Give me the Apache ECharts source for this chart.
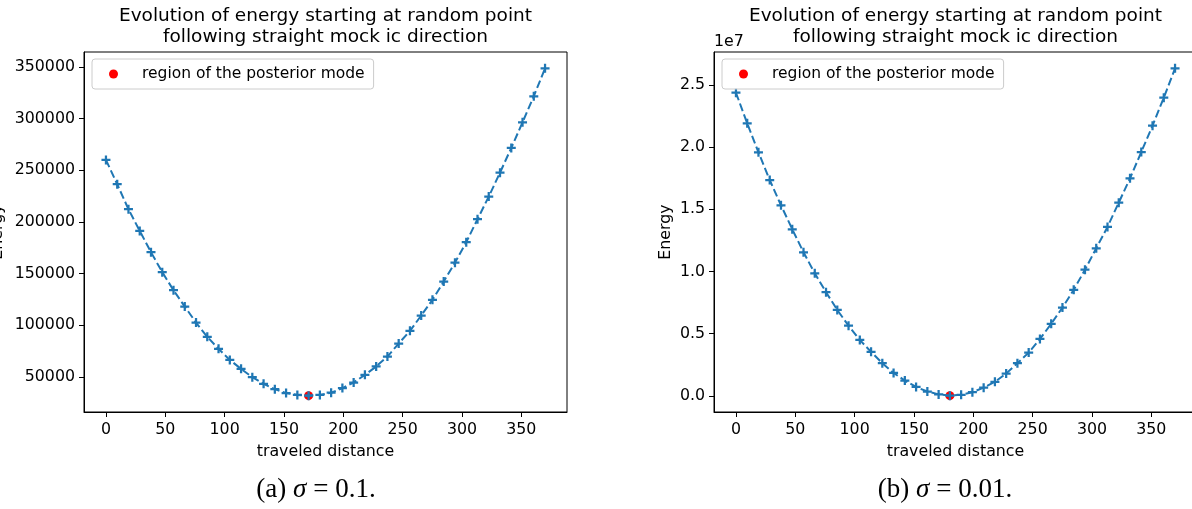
<!DOCTYPE html>
<html>
<head>
<meta charset="utf-8">
<script src="https://cdn.jsdelivr.net/npm/echarts@6/dist/echarts.min.js"></script>
<style>
  html, body { margin: 0; padding: 0; background: #fff; }
  #chart { width: 1192px; height: 509px; }
</style>
</head>
<body>
<div id="chart"></div>
<script>
// ---------- data ----------
const distance = [0, 9.49, 18.97, 28.46, 37.95, 47.44, 56.92, 66.41, 75.90, 85.38,
  94.87, 104.36, 113.85, 123.33, 132.82, 142.31, 151.79, 161.28, 170.77, 180.26,
  189.74, 199.23, 208.72, 218.21, 227.69, 237.18, 246.67, 256.15, 265.64, 275.13,
  284.62, 294.10, 303.59, 313.08, 322.56, 332.05, 341.54, 351.03, 360.51, 370.0];

// panel (a) sigma = 0.1
const energyA = [259900, 236400, 212200, 191200, 170600, 151300, 133800, 118000, 102500, 88700,
  77100, 66400, 57700, 49700, 43200, 38100, 34300, 32500, 31800, 32500,
  34600, 39100, 44500, 51900, 60000, 69600, 82200, 94500, 109300, 124500,
  142200, 160500, 180300, 202500, 224400, 247600, 271500, 296300, 321500, 348500];
const modeA = [170.77, 31800];

// panel (b) sigma = 0.01
const energyB = [24380000, 21920000, 19590000, 17360000, 15330000, 13400000, 11550000, 9860000, 8340000, 6910000,
  5650000, 4500000, 3540000, 2630000, 1850000, 1230000, 720000, 350000, 120000, 20000,
  90000, 300000, 660000, 1130000, 1800000, 2630000, 3480000, 4580000, 5800000, 7100000,
  8530000, 10150000, 11870000, 13590000, 15540000, 17500000, 19610000, 21730000, 23980000, 26340000];
const modeB = [180.26, 20000];

const xTicks = [0, 50, 100, 150, 200, 250, 300, 350];
const yTicksA = [50000, 100000, 150000, 200000, 250000, 300000, 350000];
const yTicksB = [0, 5000000, 10000000, 15000000, 20000000, 25000000];

const titleText = 'Evolution of energy starting at random point\nfollowing straight mock ic direction';
const legendName = 'region of the posterior mode';
const xName = 'traveled distance';
const yName = 'Energy';
const captionA = '(a) {i|σ} = 0.1.';
const captionB = '(b) {i|σ} = 0.01.';
const offsetText = '1e7';

// ---------- styling ----------
const FONT = 'DejaVu Sans';
const BLUE = '#1f77b4';
const PLUS = 'path://M3,0H5V3H8V5H5V8H3V5H0V3H3Z';
const FS = 15.8;

function pairs(xs, ys) { return xs.map((x, i) => [x, ys[i]]); }

function xAxisCfg(idx) {
  return {
    type: 'value', gridIndex: idx, min: -18.5, max: 388.5,
    name: xName, nameLocation: 'middle', nameGap: 32,
    nameTextStyle: { fontFamily: FONT, fontSize: FS, color: '#000' },
    axisLine: { show: true, onZero: false, lineStyle: { color: '#000', width: 1 } },
    axisTick: { show: true, length: 5, lineStyle: { color: '#000' }, customValues: xTicks },
    axisLabel: { fontFamily: FONT, fontSize: FS, color: '#000', margin: 10, customValues: xTicks },
    splitLine: { show: false }
  };
}

function yAxisCfg(idx, min, max, ticks, fmt, gap) {
  return {
    type: 'value', gridIndex: idx, min: min, max: max,
    name: yName, nameLocation: 'middle', nameGap: gap,
    nameTextStyle: { fontFamily: FONT, fontSize: FS, color: '#000' },
    axisLine: { show: true, onZero: false, lineStyle: { color: '#000', width: 1 } },
    axisTick: { show: true, length: 5, lineStyle: { color: '#000' }, customValues: ticks },
    axisLabel: { fontFamily: FONT, fontSize: FS, color: '#000', margin: 9, customValues: ticks, formatter: fmt },
    splitLine: { show: false }
  };
}

function legendCfg(left) {
  return {
    left: left, top: 59, orient: 'vertical',
    data: [legendName], icon: 'circle', itemWidth: 9, itemHeight: 9,
    padding: [7, 9, 7, 17],
    borderColor: '#cccccc', borderWidth: 1, borderRadius: 3,
    backgroundColor: 'rgba(255,255,255,0.8)',
    textStyle: { fontFamily: FONT, fontSize: 15.5, color: '#000', padding: [0, 0, 0, 19] }
  };
}

const chart = echarts.init(document.getElementById('chart'), null, { renderer: 'canvas' });
chart.setOption({
  animation: false,
  backgroundColor: '#fff',
  grid: [
    { left: 84, top: 52, width: 483, height: 360, show: true, borderColor: '#000', borderWidth: 1, containLabel: false, outerBoundsMode: 'none' },
    { left: 714, top: 52, width: 483, height: 360, show: true, borderColor: '#000', borderWidth: 1, containLabel: false, outerBoundsMode: 'none' }
  ],
  xAxis: [xAxisCfg(0), xAxisCfg(1)],
  yAxis: [
    yAxisCfg(0, 15965, 364335, yTicksA, v => String(v), 78),
    yAxisCfg(1, -1296000, 27656000, yTicksB, v => (v / 1e7).toFixed(1), 40)
  ],
  legend: [legendCfg(92), legendCfg(722)],
  series: [
    { name: legendName, type: 'scatter', xAxisIndex: 0, yAxisIndex: 0, data: [modeA],
      symbol: 'circle', symbolSize: 9, itemStyle: { color: '#ff0000', opacity: 1 }, z: 1 },
    { name: 'a', type: 'line', xAxisIndex: 0, yAxisIndex: 0, data: pairs(distance, energyA),
      symbol: PLUS, symbolSize: 9, showAllSymbol: true, itemStyle: { color: BLUE },
      lineStyle: { color: BLUE, width: 2, type: [8, 3.5] }, z: 2 },
    { name: legendName, type: 'scatter', xAxisIndex: 1, yAxisIndex: 1, data: [modeB],
      symbol: 'circle', symbolSize: 9, itemStyle: { color: '#ff0000', opacity: 1 }, z: 1 },
    { name: 'b', type: 'line', xAxisIndex: 1, yAxisIndex: 1, data: pairs(distance, energyB),
      symbol: PLUS, symbolSize: 9, showAllSymbol: true, itemStyle: { color: BLUE },
      lineStyle: { color: BLUE, width: 2, type: [8, 3.5] }, z: 2 }
  ],
  graphic: [
    { type: 'text', x: 325.5, y: 6, style: { text: titleText, textAlign: 'center', fontFamily: FONT, fontSize: 18.5, lineHeight: 21, fill: '#000' } },
    { type: 'text', x: 955.5, y: 6, style: { text: titleText, textAlign: 'center', fontFamily: FONT, fontSize: 18.5, lineHeight: 21, fill: '#000' } },
    { type: 'text', x: 714, y: 34, style: { text: offsetText, fontFamily: FONT, fontSize: FS, fill: '#000' } },
    { type: 'text', x: 316, y: 476, style: { text: captionA, textAlign: 'center', fontFamily: 'Liberation Serif', fontSize: 27, fill: '#000',
      rich: { i: { fontStyle: 'italic', fontFamily: 'Liberation Serif', fontSize: 27 } } } },
    { type: 'text', x: 945, y: 476, style: { text: captionB, textAlign: 'center', fontFamily: 'Liberation Serif', fontSize: 27, fill: '#000',
      rich: { i: { fontStyle: 'italic', fontFamily: 'Liberation Serif', fontSize: 27 } } } }
  ]
});
</script>
</body>
</html>
